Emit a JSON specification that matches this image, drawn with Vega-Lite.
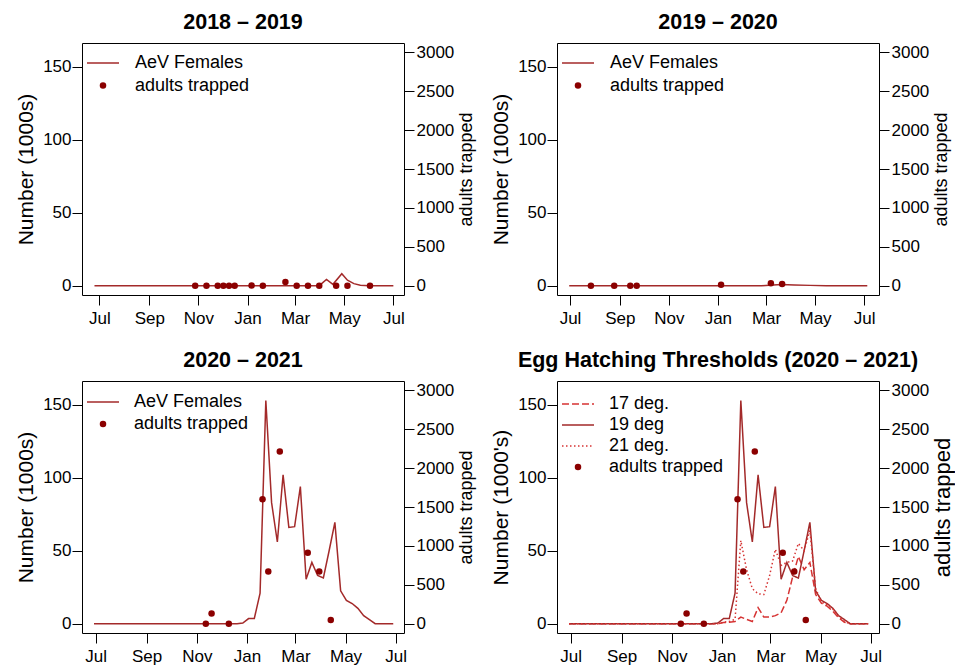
{
  "$schema": "https://vega.github.io/schema/vega-lite/v6.json",
  "background": "white",
  "padding": {"left": 15, "top": 11, "right": 0, "bottom": 0},
  "autosize": {"type": "pad"},
  "columns": 2,
  "spacing": {"row": 86, "column": 153},
  "bounds": "flush",
  "resolve": {"scale": {"x": "independent", "y": "independent", "color": "independent", "strokeDash": "independent"}, "legend": {"color": "independent"}},
  "datasets": {
    "p1_line": [
      {"date": "2018-06-25T00:00", "series": "AeV Females", "value": 0},
      {"date": "2019-03-31T00:00", "series": "AeV Females", "value": 0},
      {"date": "2019-04-09T00:00", "series": "AeV Females", "value": 4.3},
      {"date": "2019-04-17T00:00", "series": "AeV Females", "value": 0.9},
      {"date": "2019-04-28T00:00", "series": "AeV Females", "value": 8.2},
      {"date": "2019-05-05T00:00", "series": "AeV Females", "value": 3.7},
      {"date": "2019-05-13T00:00", "series": "AeV Females", "value": 1.4},
      {"date": "2019-05-21T00:00", "series": "AeV Females", "value": 0.3},
      {"date": "2019-06-01T00:00", "series": "AeV Females", "value": 0},
      {"date": "2019-07-01T00:00", "series": "AeV Females", "value": 0}
    ],
    "p1_pts": [
      {"date": "2018-10-28T00:00", "series": "adults trapped", "adults": 0},
      {"date": "2018-11-11T00:00", "series": "adults trapped", "adults": 0},
      {"date": "2018-11-25T00:00", "series": "adults trapped", "adults": 0},
      {"date": "2018-12-02T00:00", "series": "adults trapped", "adults": 0},
      {"date": "2018-12-09T00:00", "series": "adults trapped", "adults": 0},
      {"date": "2018-12-16T00:00", "series": "adults trapped", "adults": 0},
      {"date": "2019-01-06T00:00", "series": "adults trapped", "adults": 3},
      {"date": "2019-01-20T00:00", "series": "adults trapped", "adults": 0},
      {"date": "2019-02-17T00:00", "series": "adults trapped", "adults": 47},
      {"date": "2019-03-03T00:00", "series": "adults trapped", "adults": 0},
      {"date": "2019-03-17T00:00", "series": "adults trapped", "adults": 0},
      {"date": "2019-03-31T00:00", "series": "adults trapped", "adults": 0},
      {"date": "2019-04-21T00:00", "series": "adults trapped", "adults": 0},
      {"date": "2019-05-05T00:00", "series": "adults trapped", "adults": 0},
      {"date": "2019-06-02T00:00", "series": "adults trapped", "adults": 0}
    ],
    "p2_line": [
      {"date": "2019-06-30T00:00", "series": "AeV Females", "value": 0},
      {"date": "2020-02-25T00:00", "series": "AeV Females", "value": 0},
      {"date": "2020-03-10T00:00", "series": "AeV Females", "value": 0.5},
      {"date": "2020-03-20T00:00", "series": "AeV Females", "value": 0.8},
      {"date": "2020-04-05T00:00", "series": "AeV Females", "value": 0.5},
      {"date": "2020-04-25T00:00", "series": "AeV Females", "value": 0.2},
      {"date": "2020-05-15T00:00", "series": "AeV Females", "value": 0},
      {"date": "2020-07-05T00:00", "series": "AeV Females", "value": 0}
    ],
    "p2_pts": [
      {"date": "2019-07-27T00:00", "series": "adults trapped", "adults": 0},
      {"date": "2019-08-25T00:00", "series": "adults trapped", "adults": 0},
      {"date": "2019-09-14T00:00", "series": "adults trapped", "adults": 0},
      {"date": "2019-09-22T00:00", "series": "adults trapped", "adults": 0},
      {"date": "2020-01-05T00:00", "series": "adults trapped", "adults": 13},
      {"date": "2020-03-07T00:00", "series": "adults trapped", "adults": 30},
      {"date": "2020-03-21T00:00", "series": "adults trapped", "adults": 22}
    ],
    "p3_line": [
      {"date": "2020-06-29T00:00", "series": "AeV Females", "value": 0},
      {"date": "2020-12-20T00:00", "series": "AeV Females", "value": 0},
      {"date": "2020-12-27T00:00", "series": "AeV Females", "value": 0.4},
      {"date": "2021-01-03T00:00", "series": "AeV Females", "value": 3.5},
      {"date": "2021-01-10T00:00", "series": "AeV Females", "value": 3.6},
      {"date": "2021-01-17T00:00", "series": "AeV Females", "value": 21},
      {"date": "2021-01-24T00:00", "series": "AeV Females", "value": 153},
      {"date": "2021-01-31T00:00", "series": "AeV Females", "value": 83},
      {"date": "2021-02-07T00:00", "series": "AeV Females", "value": 56},
      {"date": "2021-02-14T00:00", "series": "AeV Females", "value": 102},
      {"date": "2021-02-21T00:00", "series": "AeV Females", "value": 66},
      {"date": "2021-02-28T00:00", "series": "AeV Females", "value": 66.5},
      {"date": "2021-03-07T00:00", "series": "AeV Females", "value": 94},
      {"date": "2021-03-14T00:00", "series": "AeV Females", "value": 30.5},
      {"date": "2021-03-21T00:00", "series": "AeV Females", "value": 42},
      {"date": "2021-03-28T00:00", "series": "AeV Females", "value": 33},
      {"date": "2021-04-04T00:00", "series": "AeV Females", "value": 31.3},
      {"date": "2021-04-11T00:00", "series": "AeV Females", "value": 50},
      {"date": "2021-04-18T00:00", "series": "AeV Females", "value": 69.5},
      {"date": "2021-04-25T00:00", "series": "AeV Females", "value": 22.5},
      {"date": "2021-05-02T00:00", "series": "AeV Females", "value": 16},
      {"date": "2021-05-09T00:00", "series": "AeV Females", "value": 13.8},
      {"date": "2021-05-16T00:00", "series": "AeV Females", "value": 10.5},
      {"date": "2021-05-23T00:00", "series": "AeV Females", "value": 5.5},
      {"date": "2021-05-30T00:00", "series": "AeV Females", "value": 2.8},
      {"date": "2021-06-06T00:00", "series": "AeV Females", "value": 0},
      {"date": "2021-06-28T00:00", "series": "AeV Females", "value": 0}
    ],
    "p3_pts": [
      {"date": "2020-11-12T00:00", "series": "adults trapped", "adults": 0},
      {"date": "2020-11-19T00:00", "series": "adults trapped", "adults": 130},
      {"date": "2020-12-10T00:00", "series": "adults trapped", "adults": 0},
      {"date": "2021-01-20T00:00", "series": "adults trapped", "adults": 1600},
      {"date": "2021-01-27T00:00", "series": "adults trapped", "adults": 670},
      {"date": "2021-02-10T00:00", "series": "adults trapped", "adults": 2215},
      {"date": "2021-03-16T00:00", "series": "adults trapped", "adults": 913},
      {"date": "2021-03-30T00:00", "series": "adults trapped", "adults": 670},
      {"date": "2021-04-13T00:00", "series": "adults trapped", "adults": 47}
    ],
    "p4_lines": [
      {"date": "2020-06-29T00:00", "series": "17 deg.", "value": 0},
      {"date": "2020-12-27T00:00", "series": "17 deg.", "value": 0},
      {"date": "2021-01-03T00:00", "series": "17 deg.", "value": 0.8},
      {"date": "2021-01-10T00:00", "series": "17 deg.", "value": 1},
      {"date": "2021-01-17T00:00", "series": "17 deg.", "value": 1.5},
      {"date": "2021-01-24T00:00", "series": "17 deg.", "value": 4.5},
      {"date": "2021-01-31T00:00", "series": "17 deg.", "value": 3},
      {"date": "2021-02-07T00:00", "series": "17 deg.", "value": 1.5},
      {"date": "2021-02-14T00:00", "series": "17 deg.", "value": 11},
      {"date": "2021-02-21T00:00", "series": "17 deg.", "value": 4.5},
      {"date": "2021-02-28T00:00", "series": "17 deg.", "value": 4.5},
      {"date": "2021-03-07T00:00", "series": "17 deg.", "value": 5.5},
      {"date": "2021-03-14T00:00", "series": "17 deg.", "value": 7.5},
      {"date": "2021-03-21T00:00", "series": "17 deg.", "value": 16},
      {"date": "2021-03-28T00:00", "series": "17 deg.", "value": 32},
      {"date": "2021-04-04T00:00", "series": "17 deg.", "value": 46},
      {"date": "2021-04-11T00:00", "series": "17 deg.", "value": 37},
      {"date": "2021-04-18T00:00", "series": "17 deg.", "value": 42},
      {"date": "2021-04-25T00:00", "series": "17 deg.", "value": 20},
      {"date": "2021-05-02T00:00", "series": "17 deg.", "value": 14},
      {"date": "2021-05-09T00:00", "series": "17 deg.", "value": 12},
      {"date": "2021-05-16T00:00", "series": "17 deg.", "value": 8.5},
      {"date": "2021-05-23T00:00", "series": "17 deg.", "value": 4},
      {"date": "2021-05-30T00:00", "series": "17 deg.", "value": 1},
      {"date": "2021-06-06T00:00", "series": "17 deg.", "value": 0},
      {"date": "2021-06-28T00:00", "series": "17 deg.", "value": 0},
      {"date": "2020-06-29T00:00", "series": "19 deg", "value": 0},
      {"date": "2020-12-20T00:00", "series": "19 deg", "value": 0},
      {"date": "2020-12-27T00:00", "series": "19 deg", "value": 0.4},
      {"date": "2021-01-03T00:00", "series": "19 deg", "value": 3.5},
      {"date": "2021-01-10T00:00", "series": "19 deg", "value": 3.6},
      {"date": "2021-01-17T00:00", "series": "19 deg", "value": 21},
      {"date": "2021-01-24T00:00", "series": "19 deg", "value": 153},
      {"date": "2021-01-31T00:00", "series": "19 deg", "value": 83},
      {"date": "2021-02-07T00:00", "series": "19 deg", "value": 56},
      {"date": "2021-02-14T00:00", "series": "19 deg", "value": 102},
      {"date": "2021-02-21T00:00", "series": "19 deg", "value": 66},
      {"date": "2021-02-28T00:00", "series": "19 deg", "value": 66.5},
      {"date": "2021-03-07T00:00", "series": "19 deg", "value": 94},
      {"date": "2021-03-14T00:00", "series": "19 deg", "value": 30.5},
      {"date": "2021-03-21T00:00", "series": "19 deg", "value": 42},
      {"date": "2021-03-28T00:00", "series": "19 deg", "value": 33},
      {"date": "2021-04-04T00:00", "series": "19 deg", "value": 31.3},
      {"date": "2021-04-11T00:00", "series": "19 deg", "value": 50},
      {"date": "2021-04-18T00:00", "series": "19 deg", "value": 69.5},
      {"date": "2021-04-25T00:00", "series": "19 deg", "value": 22.5},
      {"date": "2021-05-02T00:00", "series": "19 deg", "value": 16},
      {"date": "2021-05-09T00:00", "series": "19 deg", "value": 13.8},
      {"date": "2021-05-16T00:00", "series": "19 deg", "value": 10.5},
      {"date": "2021-05-23T00:00", "series": "19 deg", "value": 5.5},
      {"date": "2021-05-30T00:00", "series": "19 deg", "value": 2.8},
      {"date": "2021-06-06T00:00", "series": "19 deg", "value": 0},
      {"date": "2021-06-28T00:00", "series": "19 deg", "value": 0},
      {"date": "2020-06-29T00:00", "series": "21 deg.", "value": 0},
      {"date": "2020-12-27T00:00", "series": "21 deg.", "value": 0},
      {"date": "2021-01-03T00:00", "series": "21 deg.", "value": 1},
      {"date": "2021-01-10T00:00", "series": "21 deg.", "value": 1.5},
      {"date": "2021-01-17T00:00", "series": "21 deg.", "value": 3},
      {"date": "2021-01-24T00:00", "series": "21 deg.", "value": 57},
      {"date": "2021-01-31T00:00", "series": "21 deg.", "value": 37},
      {"date": "2021-02-07T00:00", "series": "21 deg.", "value": 24},
      {"date": "2021-02-14T00:00", "series": "21 deg.", "value": 20.5},
      {"date": "2021-02-21T00:00", "series": "21 deg.", "value": 20},
      {"date": "2021-02-28T00:00", "series": "21 deg.", "value": 33},
      {"date": "2021-03-07T00:00", "series": "21 deg.", "value": 51},
      {"date": "2021-03-14T00:00", "series": "21 deg.", "value": 40},
      {"date": "2021-03-21T00:00", "series": "21 deg.", "value": 42},
      {"date": "2021-03-28T00:00", "series": "21 deg.", "value": 43},
      {"date": "2021-04-04T00:00", "series": "21 deg.", "value": 55},
      {"date": "2021-04-11T00:00", "series": "21 deg.", "value": 50},
      {"date": "2021-04-18T00:00", "series": "21 deg.", "value": 64},
      {"date": "2021-04-25T00:00", "series": "21 deg.", "value": 24},
      {"date": "2021-05-02T00:00", "series": "21 deg.", "value": 15},
      {"date": "2021-05-09T00:00", "series": "21 deg.", "value": 13},
      {"date": "2021-05-16T00:00", "series": "21 deg.", "value": 10},
      {"date": "2021-05-23T00:00", "series": "21 deg.", "value": 5},
      {"date": "2021-05-30T00:00", "series": "21 deg.", "value": 1.5},
      {"date": "2021-06-06T00:00", "series": "21 deg.", "value": 0},
      {"date": "2021-06-28T00:00", "series": "21 deg.", "value": 0}
    ],
    "p4_pts": [
      {"date": "2020-11-12T00:00", "series": "adults trapped", "adults": 0},
      {"date": "2020-11-19T00:00", "series": "adults trapped", "adults": 130},
      {"date": "2020-12-10T00:00", "series": "adults trapped", "adults": 0},
      {"date": "2021-01-20T00:00", "series": "adults trapped", "adults": 1600},
      {"date": "2021-01-27T00:00", "series": "adults trapped", "adults": 670},
      {"date": "2021-02-10T00:00", "series": "adults trapped", "adults": 2215},
      {"date": "2021-03-16T00:00", "series": "adults trapped", "adults": 913},
      {"date": "2021-03-30T00:00", "series": "adults trapped", "adults": 670},
      {"date": "2021-04-13T00:00", "series": "adults trapped", "adults": 47}
    ]
  },
  "concat": [
    {
      "title": {"text": "2018 – 2019"},
      "width": 322, "height": 252,
      "resolve": {"scale": {"y": "independent"}},
      "layer": [
        {
          "data": {"name": "p1_line"},
          "mark": {"type": "line", "strokeWidth": 1.5},
          "encoding": {
            "x": {"field": "date", "type": "temporal", "title": null,
              "scale": {"domain": [{"year": 2018, "month": 6, "date": 9, "hours": 12}, {"year": 2019, "month": 7, "date": 14, "hours": 5}], "nice": false},
              "axis": {"format": "%b", "values": [{"year": 2018, "month": 7, "date": 1}, {"year": 2018, "month": 9, "date": 1}, {"year": 2018, "month": 11, "date": 1}, {"year": 2019, "month": 1, "date": 1}, {"year": 2019, "month": 3, "date": 1}, {"year": 2019, "month": 5, "date": 1}, {"year": 2019, "month": 7, "date": 1}]}},
            "y": {"field": "value", "type": "quantitative", "title": "Number (1000s)",
              "scale": {"domain": [-6.4, 166.4], "nice": false, "zero": false},
              "axis": {"orient": "left", "values": [0, 50, 100, 150]}},
            "color": {"field": "series", "type": "nominal",
              "scale": {"domain": ["AeV Females", "adults trapped"], "range": ["#A32A2A", "#8B0000"]},
              "legend": {"title": null, "orient": "top-left", "offset": 11, "symbolOffset": 1, "labelOffset": 23, "rowPadding": 4.5,
                "symbolType": {"expr": "datum.value == 'adults trapped' ? 'circle' : 'stroke'"},
                "symbolSize": {"expr": "datum.value == 'adults trapped' ? 42 : 1024"},
                "symbolStrokeWidth": {"expr": "datum.value == 'adults trapped' ? 0 : 1.5"},
                "symbolFillColor": {"expr": "datum.value == 'adults trapped' ? '#8B0000' : 'transparent'"},
                "symbolOpacity": 1}}
          }
        },
        {
          "data": {"name": "p1_pts"},
          "mark": {"type": "point", "filled": true, "size": 42, "opacity": 1},
          "encoding": {
            "x": {"field": "date", "type": "temporal",
              "scale": {"domain": [{"year": 2018, "month": 6, "date": 9, "hours": 12}, {"year": 2019, "month": 7, "date": 14, "hours": 5}], "nice": false}},
            "y": {"field": "adults", "type": "quantitative", "title": "adults trapped",
              "scale": {"domain": [-120, 3120], "nice": false, "zero": false},
              "axis": {"orient": "right", "values": [0, 500, 1000, 1500, 2000, 2500, 3000], "format": "d"}},
            "color": {"field": "series", "type": "nominal"}
          }
        }
      ]
    },
    {
      "title": {"text": "2019 – 2020"},
      "width": 322, "height": 252,
      "resolve": {"scale": {"y": "independent"}},
      "layer": [
        {
          "data": {"name": "p2_line"},
          "mark": {"type": "line", "strokeWidth": 1.5},
          "encoding": {
            "x": {"field": "date", "type": "temporal", "title": null,
              "scale": {"domain": [{"year": 2019, "month": 6, "date": 14, "hours": 19}, {"year": 2020, "month": 7, "date": 19, "hours": 14}], "nice": false},
              "axis": {"format": "%b", "values": [{"year": 2019, "month": 7, "date": 1}, {"year": 2019, "month": 9, "date": 1}, {"year": 2019, "month": 11, "date": 1}, {"year": 2020, "month": 1, "date": 1}, {"year": 2020, "month": 3, "date": 1}, {"year": 2020, "month": 5, "date": 1}, {"year": 2020, "month": 7, "date": 1}]}},
            "y": {"field": "value", "type": "quantitative", "title": "Number (1000s)",
              "scale": {"domain": [-6.4, 166.4], "nice": false, "zero": false},
              "axis": {"orient": "left", "values": [0, 50, 100, 150]}},
            "color": {"field": "series", "type": "nominal",
              "scale": {"domain": ["AeV Females", "adults trapped"], "range": ["#A32A2A", "#8B0000"]},
              "legend": {"title": null, "orient": "top-left", "offset": 11, "symbolOffset": 1, "labelOffset": 23, "rowPadding": 4.5,
                "symbolType": {"expr": "datum.value == 'adults trapped' ? 'circle' : 'stroke'"},
                "symbolSize": {"expr": "datum.value == 'adults trapped' ? 42 : 1024"},
                "symbolStrokeWidth": {"expr": "datum.value == 'adults trapped' ? 0 : 1.5"},
                "symbolFillColor": {"expr": "datum.value == 'adults trapped' ? '#8B0000' : 'transparent'"},
                "symbolOpacity": 1}}
          }
        },
        {
          "data": {"name": "p2_pts"},
          "mark": {"type": "point", "filled": true, "size": 42, "opacity": 1},
          "encoding": {
            "x": {"field": "date", "type": "temporal",
              "scale": {"domain": [{"year": 2019, "month": 6, "date": 14, "hours": 19}, {"year": 2020, "month": 7, "date": 19, "hours": 14}], "nice": false}},
            "y": {"field": "adults", "type": "quantitative", "title": "adults trapped",
              "scale": {"domain": [-120, 3120], "nice": false, "zero": false},
              "axis": {"orient": "right", "values": [0, 500, 1000, 1500, 2000, 2500, 3000], "format": "d"}},
            "color": {"field": "series", "type": "nominal"}
          }
        }
      ]
    },
    {
      "title": {"text": "2020 – 2021"},
      "width": 322, "height": 252,
      "resolve": {"scale": {"y": "independent"}},
      "layer": [
        {
          "data": {"name": "p3_line"},
          "mark": {"type": "line", "strokeWidth": 1.5},
          "encoding": {
            "x": {"field": "date", "type": "temporal", "title": null,
              "scale": {"domain": [{"year": 2020, "month": 6, "date": 14, "hours": 9}, {"year": 2021, "month": 7, "date": 11, "hours": 2}], "nice": false},
              "axis": {"format": "%b", "values": [{"year": 2020, "month": 7, "date": 1}, {"year": 2020, "month": 9, "date": 1}, {"year": 2020, "month": 11, "date": 1}, {"year": 2021, "month": 1, "date": 1}, {"year": 2021, "month": 3, "date": 1}, {"year": 2021, "month": 5, "date": 1}, {"year": 2021, "month": 7, "date": 1}]}},
            "y": {"field": "value", "type": "quantitative", "title": "Number (1000s)",
              "scale": {"domain": [-6.4, 166.4], "nice": false, "zero": false},
              "axis": {"orient": "left", "values": [0, 50, 100, 150]}},
            "color": {"field": "series", "type": "nominal",
              "scale": {"domain": ["AeV Females", "adults trapped"], "range": ["#A32A2A", "#8B0000"]},
              "legend": {"title": null, "orient": "top-left", "offset": 12, "symbolOffset": 0, "labelOffset": 22, "rowPadding": 4,
                "symbolType": {"expr": "datum.value == 'adults trapped' ? 'circle' : 'stroke'"},
                "symbolSize": {"expr": "datum.value == 'adults trapped' ? 42 : 1024"},
                "symbolStrokeWidth": {"expr": "datum.value == 'adults trapped' ? 0 : 1.5"},
                "symbolFillColor": {"expr": "datum.value == 'adults trapped' ? '#8B0000' : 'transparent'"},
                "symbolOpacity": 1}}
          }
        },
        {
          "data": {"name": "p3_pts"},
          "mark": {"type": "point", "filled": true, "size": 42, "opacity": 1},
          "encoding": {
            "x": {"field": "date", "type": "temporal",
              "scale": {"domain": [{"year": 2020, "month": 6, "date": 14, "hours": 9}, {"year": 2021, "month": 7, "date": 11, "hours": 2}], "nice": false}},
            "y": {"field": "adults", "type": "quantitative", "title": "adults trapped",
              "scale": {"domain": [-120, 3120], "nice": false, "zero": false},
              "axis": {"orient": "right", "values": [0, 500, 1000, 1500, 2000, 2500, 3000], "format": "d"}},
            "color": {"field": "series", "type": "nominal"}
          }
        }
      ]
    },
    {
      "title": {"text": "Egg Hatching Thresholds (2020 – 2021)"},
      "width": 322, "height": 252,
      "resolve": {"scale": {"y": "independent"}},
      "layer": [
        {
          "data": {"name": "p4_lines"},
          "mark": {"type": "line", "strokeWidth": 1.5},
          "encoding": {
            "x": {"field": "date", "type": "temporal", "title": null,
              "scale": {"domain": [{"year": 2020, "month": 6, "date": 14, "hours": 9}, {"year": 2021, "month": 7, "date": 11, "hours": 2}], "nice": false},
              "axis": {"format": "%b", "values": [{"year": 2020, "month": 7, "date": 1}, {"year": 2020, "month": 9, "date": 1}, {"year": 2020, "month": 11, "date": 1}, {"year": 2021, "month": 1, "date": 1}, {"year": 2021, "month": 3, "date": 1}, {"year": 2021, "month": 5, "date": 1}, {"year": 2021, "month": 7, "date": 1}]}},
            "y": {"field": "value", "type": "quantitative", "title": "Number (1000's)",
              "scale": {"domain": [-6.4, 166.4], "nice": false, "zero": false},
              "axis": {"orient": "left", "values": [0, 50, 100, 150]}},
            "color": {"field": "series", "type": "nominal",
              "scale": {"domain": ["17 deg.", "19 deg", "21 deg.", "adults trapped"], "range": ["#D63333", "#A32A2A", "#D63333", "#8B0000"]},
              "legend": {"title": null, "orient": "top-left", "offset": 14, "symbolOffset": -2, "labelOffset": 22, "rowPadding": 3,
                "symbolType": {"expr": "datum.value == 'adults trapped' ? 'circle' : 'stroke'"},
                "symbolSize": {"expr": "datum.value == 'adults trapped' ? 42 : 1024"},
                "symbolStrokeWidth": {"expr": "datum.value == 'adults trapped' ? 0 : 1.5"},
                "symbolFillColor": {"expr": "datum.value == 'adults trapped' ? '#8B0000' : 'transparent'"},
                "symbolDash": {"expr": "datum.value == '17 deg.' ? [7, 3] : datum.value == '21 deg.' ? [1.5, 2.5] : [1, 0]"},
                "symbolOpacity": 1}},
            "strokeDash": {"field": "series", "type": "nominal",
              "scale": {"domain": ["17 deg.", "19 deg", "21 deg."], "range": [[7, 3], [1, 0], [1.5, 2.5]]},
              "legend": null}
          }
        },
        {
          "data": {"name": "p4_pts"},
          "mark": {"type": "point", "filled": true, "size": 42, "opacity": 1},
          "encoding": {
            "x": {"field": "date", "type": "temporal",
              "scale": {"domain": [{"year": 2020, "month": 6, "date": 14, "hours": 9}, {"year": 2021, "month": 7, "date": 11, "hours": 2}], "nice": false}},
            "y": {"field": "adults", "type": "quantitative", "title": "adults trapped",
              "scale": {"domain": [-120, 3120], "nice": false, "zero": false},
              "axis": {"orient": "right", "values": [0, 500, 1000, 1500, 2000, 2500, 3000], "format": "d", "titleFontSize": 22}},
            "color": {"field": "series", "type": "nominal"}
          }
        }
      ]
    }
  ],
  "config": {
    "font": "Liberation Sans",
    "view": {"stroke": "#000000", "strokeWidth": 1},
    "axis": {"grid": false, "domain": false, "tickSize": 10, "tickColor": "#000000", "tickWidth": 1, "labelColor": "#000000", "titleColor": "#000000", "labelFontSize": 17, "titleFontWeight": "normal", "labelFlush": false, "labelOverlap": false},
    "axisX": {"labelPadding": 5},
    "axisLeft": {"labelPadding": 1, "titlePadding": 6, "titleFontSize": 21},
    "axisRight": {"labelPadding": 2, "titlePadding": 4, "titleFontSize": 18, "titleAngle": 270, "titleBaseline": "top"},
    "title": {"fontSize": 21.5, "fontWeight": "bold", "frame": "group", "anchor": "middle", "baseline": "alphabetic", "offset": 10, "color": "#000000"},
    "legend": {"padding": 0, "labelFontSize": 18, "labelColor": "#000000", "labelLimit": 400}
  }
}
